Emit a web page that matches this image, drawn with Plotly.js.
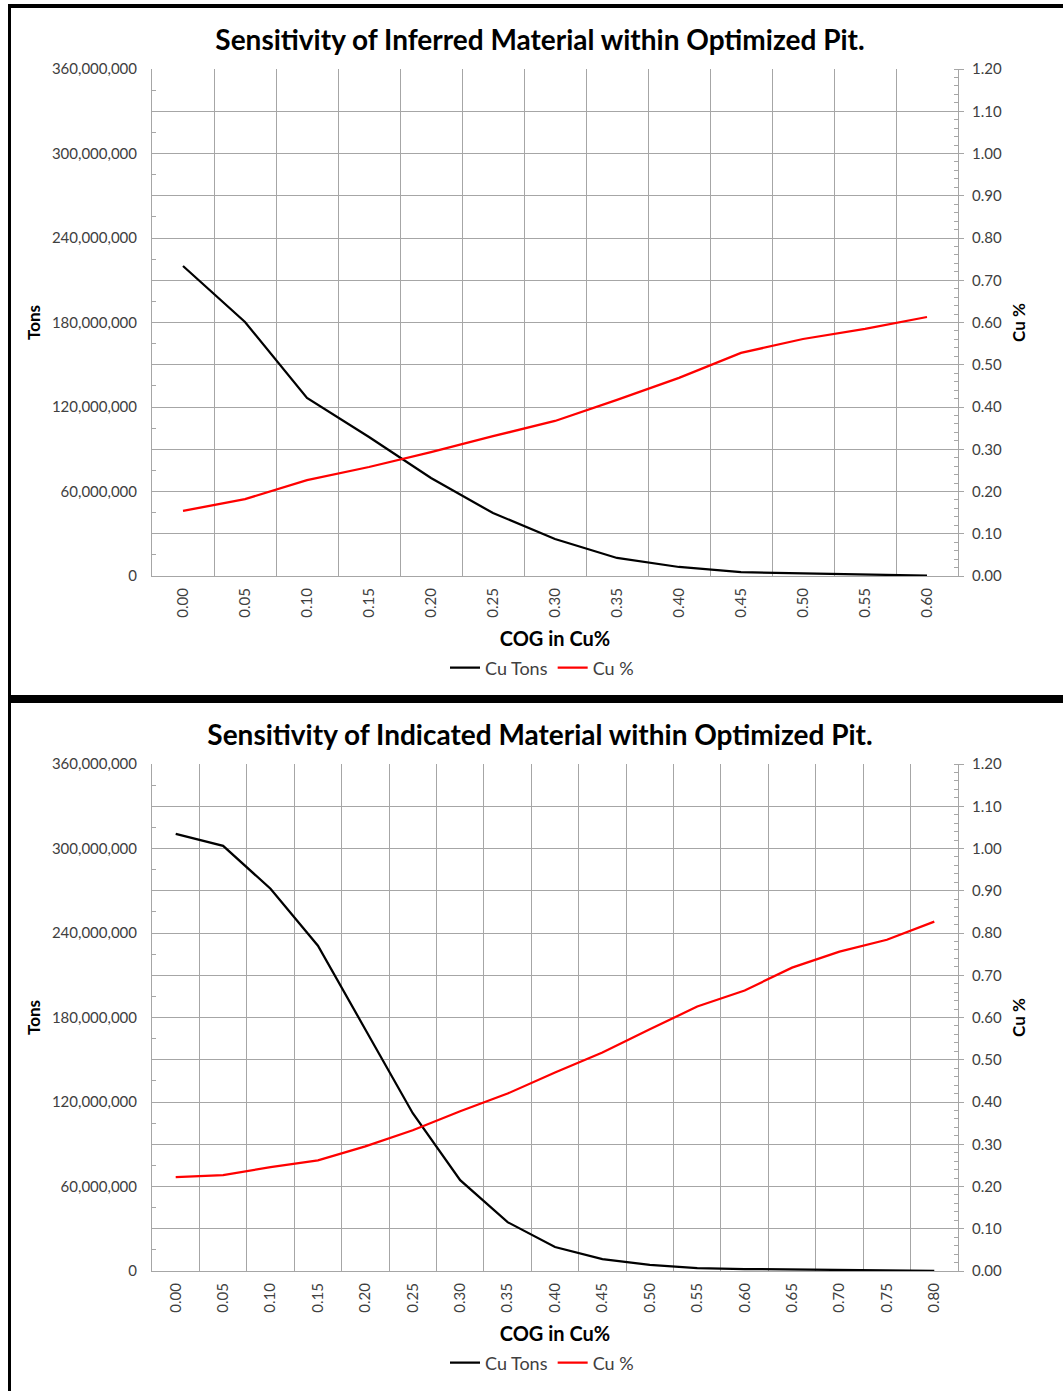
<!DOCTYPE html>
<html>
<head>
<meta charset="utf-8">
<script src="https://cdn.plot.ly/plotly-3.0.1.min.js"></script>
<style>
  html, body { margin: 0; padding: 0; background: #fff; }
  body { width: 1063px; height: 1391px; position: relative; overflow: hidden; }
  #frameTop { position: absolute; left: 8px; top: 4px; width: 1055px; height: 4px; background: #000; }
  #frameLeft { position: absolute; left: 8px; top: 4px; width: 3px; height: 1387px; background: #000; }
  #frameMid { position: absolute; left: 8px; top: 695px; width: 1055px; height: 8px; background: #000; }
  #chart1 { position: absolute; left: 11px; top: 8px; width: 1052px; height: 687px; }
  #chart2 { position: absolute; left: 11px; top: 703px; width: 1052px; height: 688px; }
</style>
</head>
<body>
<div id="frameTop"></div>
<div id="frameLeft"></div>
<div id="frameMid"></div>
<div id="chart1"></div>
<div id="chart2"></div>
<script>
// ---- Data: Inferred material ----
const inferredCOG = ["0.00","0.05","0.10","0.15","0.20","0.25","0.30","0.35","0.40","0.45","0.50","0.55","0.60"];
const inferredCuTons = [220.1e6, 180.4e6, 126.4e6, 98.7e6, 69.6e6, 44.7e6, 26.3e6, 12.8e6, 6.4e6, 2.8e6, 1.8e6, 1.1e6, 0.3e6];
const inferredCuPct = [0.154, 0.182, 0.227, 0.258, 0.293, 0.331, 0.367, 0.417, 0.469, 0.528, 0.561, 0.585, 0.613];

// ---- Data: Indicated material ----
const indicatedCOG = ["0.00","0.05","0.10","0.15","0.20","0.25","0.30","0.35","0.40","0.45","0.50","0.55","0.60","0.65","0.70","0.75","0.80"];
const indicatedCuTons = [310.4e6, 301.9e6, 271.4e6, 231.0e6, 171.5e6, 112.0e6, 64.5e6, 34.7e6, 17.0e6, 8.5e6, 4.3e6, 2.1e6, 1.4e6, 1.0e6, 0.4e6, 0.3e6, 0.1e6];
const indicatedCuPct = [0.222, 0.227, 0.246, 0.262, 0.295, 0.333, 0.378, 0.420, 0.470, 0.517, 0.572, 0.626, 0.664, 0.718, 0.756, 0.784, 0.827];

const titles = ["Sensitivity of Inferred Material within Optimized Pit.", "Sensitivity of Indicated Material within Optimized Pit."];

const FONT = "Lato, 'Open Sans', sans-serif";
const GRID = "#a6a6a6";
const LABEL = "#404040";

function draw(divId, title, cats, tons, pct, H) {
  const idx = cats.map((c, i) => i);
  const traces = [
    { x: idx, y: tons, type: "scatter", mode: "lines", name: "Cu Tons",
      line: { color: "#000000", width: 2.25 }, yaxis: "y" },
    { x: idx, y: pct, type: "scatter", mode: "lines", name: "Cu %",
      line: { color: "#ff0000", width: 2.25 }, yaxis: "y2" }
  ];
  const layout = {
    width: 1052, height: H,
    margin: { l: 141, r: 105, t: 61, b: H - 568 },
    paper_bgcolor: "#ffffff", plot_bgcolor: "#ffffff",
    font: { family: FONT, size: 15, color: LABEL },
    showlegend: true,
    title: { text: title, x: 529 / 1052, xref: "container", xanchor: "center",
             y: 1 - 32 / H, yref: "container", yanchor: "middle",
             font: { family: FONT, size: 28, color: "#000", weight: "bold" } },
    legend: { orientation: "h", x: 531 / 1052, xref: "container", xanchor: "center",
              y: 1 - 660 / H, yref: "container", yanchor: "middle",
              font: { family: FONT, size: 18, color: LABEL }, itemwidth: 30,
              tracegroupgap: 0, traceorder: "normal" },
    xaxis: {
      range: [-0.5, cats.length - 0.5],
      tickmode: "array", tickvals: idx, ticktext: cats,
      tickangle: -90, tickfont: { family: FONT, size: 15, color: LABEL },
      ticks: "", showgrid: false, zeroline: false,
      ticklabelstandoff: 5,
      showline: true, linecolor: GRID, linewidth: 1,
      minor: { tick0: 0.5, dtick: 1, showgrid: true, gridcolor: GRID, gridwidth: 1, ticks: "" },
      title: { text: "COG in Cu%", standoff: 15,
               font: { family: FONT, size: 20, color: "#000", weight: "bold" } }
    },
    yaxis: {
      range: [0, 360e6], dtick: 60e6, tick0: 0, tickformat: ",d",
      showgrid: false, zeroline: false,
      showline: true, linecolor: GRID, linewidth: 1, mirror: false,
      ticks: "", ticklabelstandoff: 11,
      tickfont: { family: FONT, size: 15, color: LABEL },
      minor: { dtick: 15e6, tick0: 0, ticks: "inside", ticklen: 4, tickcolor: GRID, showgrid: false },
      title: { text: "Tons", standoff: 6, font: { family: FONT, size: 17, color: "#000", weight: "bold" } }
    },
    yaxis2: {
      overlaying: "y", side: "right",
      range: [0, 1.2], dtick: 0.1, tick0: 0, tickformat: ".2f",
      showgrid: true, gridcolor: GRID, gridwidth: 1, zeroline: false,
      showline: true, linecolor: GRID, linewidth: 1,
      ticks: "outside", ticklen: 5, tickcolor: GRID, ticklabelstandoff: 5,
      tickfont: { family: FONT, size: 15, color: LABEL },
      minor: { dtick: 0.02, tick0: 0, ticks: "inside", ticklen: 4, tickcolor: GRID, showgrid: false },
      title: { text: "Cu %", standoff: 12, font: { family: FONT, size: 17, color: "#000", weight: "bold" } }
    }
  };
  Plotly.newPlot(divId, traces, layout, { staticPlot: true, displayModeBar: false });
}

draw("chart1", titles[0], inferredCOG, inferredCuTons, inferredCuPct, 687);
draw("chart2", titles[1], indicatedCOG, indicatedCuTons, indicatedCuPct, 688);
</script>
</body>
</html>
